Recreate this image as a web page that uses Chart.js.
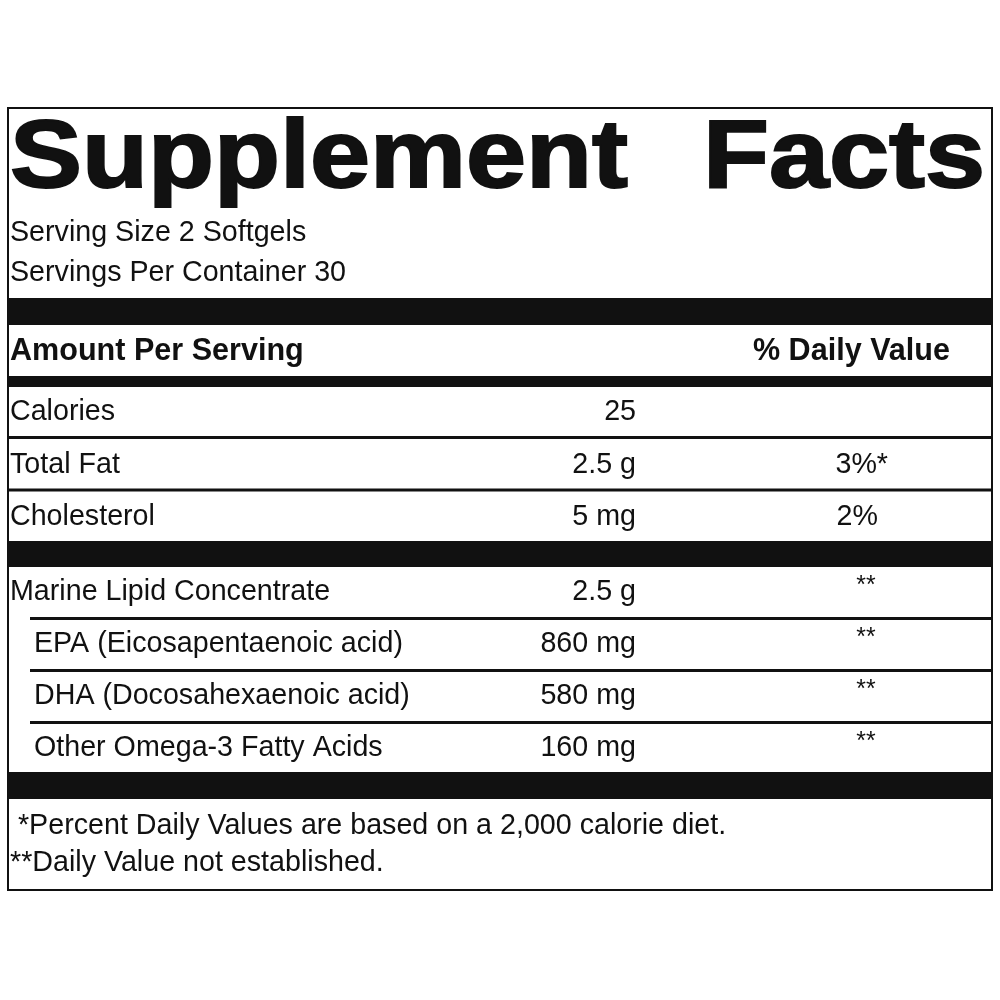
<!DOCTYPE html>
<html><head><meta charset="utf-8">
<script src="https://cdn.jsdelivr.net/npm/chart.js@4"></script>
<style>html,body{margin:0;padding:0;background:#fff}</style>
</head><body>
<canvas id="c" width="1000" height="1000"></canvas>
<script>
const title = "Supplement Facts";
const servingInfo = ["Serving Size 2 Softgels", "Servings Per Container 30"];
const headers = ["Amount Per Serving", "% Daily Value"];
const nutrients = ["Calories", "Total Fat", "Cholesterol"];
const nutrientAmounts = ["25", "2.5 g", "5 mg"];
const nutrientDV = ["", "3%*", "2%"];
const lipids = ["Marine Lipid Concentrate", "EPA (Eicosapentaenoic acid)", "DHA (Docosahexaenoic acid)", "Other Omega-3 Fatty Acids"];
const lipidAmounts = ["2.5 g", "860 mg", "580 mg", "160 mg"];
const lipidDV = ["**", "**", "**", "**"];
const footnotes = [" *Percent Daily Values are based on a 2,000 calorie diet.", "**Daily Value not established."];

const SX = 0.955;
function txt(ctx, s, x, y, size, bold, align) {
  ctx.save();
  ctx.font = (bold ? "bold " : "") + size + "px 'Liberation Sans', Arial, sans-serif";
  ctx.textBaseline = "middle";
  ctx.fillStyle = "#111";
  const w = ctx.measureText(s).width * SX;
  let x0 = align === "right" ? x - w : (align === "center" ? x - w / 2 : x);
  ctx.translate(x0, y); ctx.scale(SX, 1);
  ctx.textAlign = "left";
  ctx.fillText(s, 0, 0);
  ctx.restore();
}
function bar(ctx, x1, y1, x2, y2) { ctx.fillStyle = "#111"; ctx.fillRect(x1, y1, x2 - x1, y2 - y1); }

const labelPlugin = {
  id: "label",
  afterDraw(chart) {
    const ctx = chart.ctx;
    ctx.save();
    ctx.strokeStyle = "#111"; ctx.lineWidth = 2;
    ctx.strokeRect(8, 108, 984, 782);
    ctx.font = "900 96px 'Liberation Sans', Arial, sans-serif";
    ctx.fillStyle = "#111"; ctx.textBaseline = "alphabetic";
    const parts = title.split(" ");
    const w1 = ctx.measureText(parts[0]).width, w2 = ctx.measureText(parts[1]).width;
    const avail = 975, gap = 75;
    const sx = (avail - gap) / (w1 + w2);
    ctx.save(); ctx.translate(10, 187); ctx.scale(sx, 1.0);
    ctx.lineWidth = 2; ctx.strokeStyle = "#111";
    ctx.fillText(parts[0], 0, 0); ctx.strokeText(parts[0], 0, 0);
    ctx.restore();
    ctx.save(); ctx.translate(10 + w1 * sx + gap, 187); ctx.scale(sx, 1.0);
    ctx.lineWidth = 2; ctx.strokeStyle = "#111";
    ctx.fillText(parts[1], 0, 0); ctx.strokeText(parts[1], 0, 0);
    ctx.restore();
    servingInfo.forEach((s, i) => txt(ctx, s, 10, 233 + i * 40, 30, false));
    bar(ctx, 8, 298, 992, 325);
    txt(ctx, headers[0], 10, 351, 32, true);
    txt(ctx, headers[1], 950, 351, 32, true, "right");
    bar(ctx, 8, 376, 992, 387);
    const amtX = 636, dvX = 878;
    nutrients.forEach((n, i) => {
      const y = 412 + i * 52.5;
      txt(ctx, n, 10, y, 30, false);
      txt(ctx, nutrientAmounts[i], amtX, y, 30, false, "right");
      if (nutrientDV[i]) txt(ctx, nutrientDV[i], i === 1 ? 888 : dvX, y, 30, false, "right");
      if (i < nutrients.length - 1) bar(ctx, 8, y + 24, 992, y + 27);
    });
    bar(ctx, 8, 541, 992, 567);
    lipids.forEach((n, i) => {
      const y = 592 + i * 52;
      txt(ctx, n, i === 0 ? 10 : 34, y, 30, false);
      txt(ctx, lipidAmounts[i], amtX, y, 30, false, "right");
      txt(ctx, lipidDV[i], 866, y - 6, 26, false, "center");
      if (i < lipids.length - 1) bar(ctx, 30, y + 25, 992, y + 28);
    });
    bar(ctx, 8, 772, 992, 799);
    footnotes.forEach((s, i) => txt(ctx, s, 10, 826 + i * 37, 30, false));
    ctx.restore();
  }
};

new Chart(document.getElementById("c"), {
  type: "bar",
  data: { labels: nutrients.concat(lipids), datasets: [{ data: [], backgroundColor: "#111" }] },
  options: {
    responsive: false, animation: false, devicePixelRatio: 1,
    plugins: { legend: { display: false }, tooltip: { enabled: false } },
    scales: { x: { display: false }, y: { display: false } }
  },
  plugins: [labelPlugin]
});
</script>
</body></html>
